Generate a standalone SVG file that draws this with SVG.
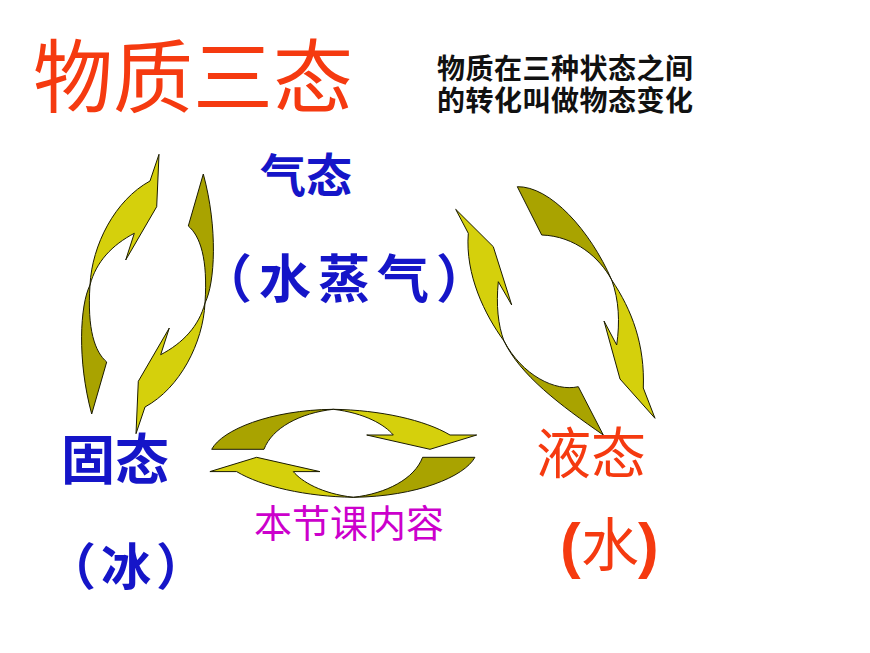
<svg xmlns="http://www.w3.org/2000/svg" width="870" height="653" viewBox="0 0 870 653">
<style>
.dk{fill:#A9A300;stroke:#1a1a00;stroke-width:1;stroke-linejoin:round}
.lt{fill:#D5D00C;stroke:#1a1a00;stroke-width:1;stroke-linejoin:round}
text{font-family:"Liberation Sans","Noto Sans CJK SC","Noto Sans CJK TC",sans-serif}
.blue{fill:#1515C8;font-weight:bold}
.red{fill:#F53A10}
</style>
<defs>
<g id="hArrow">
<path class="dk" d="M211.7,449.3 C222,430 270,410 333.3,409.3 C300,413 272,428 264,449.3 Z"/>
<path class="lt" d="M333.3,409.3 C380,410 425,420 450,435 L476.7,435 L430,449.3 L366.7,435 L393.3,435 C385,425 365,413 333.3,409.3 Z"/>
</g>
<g id="lArrow">
<path class="dk" d="M90,285 C80,305 77,360 91.7,414 L106.7,362 C95,352 87,330 90,285 Z"/>
<path class="lt" d="M90,285 C92,245 115,200 150,181 L159,154.3 L156.7,206.7 L125.7,260 L134.3,233.3 C112,245 96,262 90,285 Z"/>
</g>
</defs>
<rect width="870" height="653" fill="#ffffff"/>
<g id="connectors">
<use href="#hArrow"/>
<use href="#hArrow" transform="rotate(180 343.3 453.3)"/>
<use href="#lArrow"/>
<use href="#lArrow" transform="rotate(180 147.5 294)"/>
<g id="right-arrow-down">
<path class="dk" d="M517.3,186.7 C550,186 590,230 611.7,280 C600,258 575,236 541.7,235 Z"/>
<path class="lt" d="M611.7,280 C632,310 645,345 643.3,388 L655,418.3 L620,379 L604,321 L616.7,345 C620,322 619,300 611.7,280 Z"/>
</g>
<g id="right-arrow-up">
<path class="lt" d="M455.7,209.3 L493.3,246.7 L511.7,305 L498.3,281.7 C496,305 498,325 504,341 C485,315 465,275 468.3,233.3 Z"/>
<path class="dk" d="M504,341 C520,375 560,405 603.3,435 L578.3,386.7 C555,392 522,375 504,341 Z"/>
</g>
</g>
<g id="title">
<text x="33" y="106" font-size="80" class="red">物质三态</text>
</g>
<g id="note">
<text x="437" y="79" font-size="28" font-weight="bold" fill="#111" letter-spacing="0.5">物质在三种状态之间</text>
<text x="437" y="111" font-size="28" font-weight="bold" fill="#111" letter-spacing="0.5">的转化叫做物态变化</text>
</g>
<g id="gas">
<text x="306" y="192" font-size="46" text-anchor="middle" class="blue">气态</text>
<text x="200" y="298" font-size="52" letter-spacing="7" class="blue">（水蒸气）</text>
</g>
<g id="solid">
<text x="115" y="480" font-size="54" text-anchor="middle" class="blue">固态</text>
<text x="46" y="585" font-size="50" letter-spacing="5" class="blue">（冰）</text>
</g>
<g id="liquid">
<text x="591" y="473" font-size="55" text-anchor="middle" class="red">液态</text>
<text y="566" class="red"><tspan x="560" font-size="62" font-weight="bold">(</tspan><tspan x="581" font-size="58">水</tspan><tspan x="638" font-size="62" font-weight="bold">)</tspan></text>
</g>
<g id="lesson">
<text x="254" y="537" font-size="38" fill="#CC00CC">本节课内容</text>
</g>
</svg>
